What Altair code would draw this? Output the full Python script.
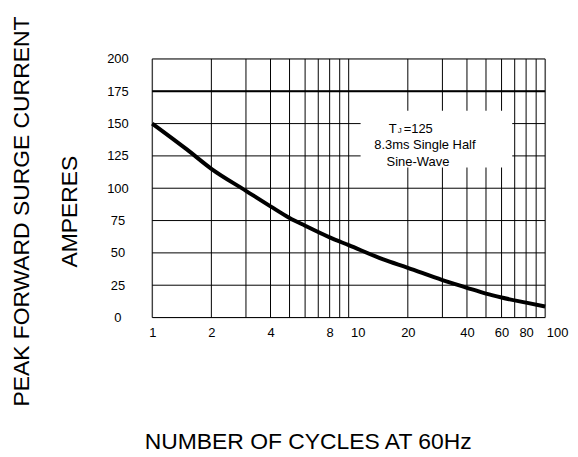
import altair as alt
import pandas as pd

# Surge curve
cycles = [1, 1.5, 2, 3, 4, 5, 6, 8, 10, 15, 20, 30, 40, 50, 60, 80, 100]
current = [150, 130, 115, 98, 86, 77, 71, 62, 56, 45, 38.5, 29, 23, 18.5, 15.5, 11.5, 8.5]

x_grid = [1, 2, 3, 4, 5, 6, 7, 8, 9, 10, 20, 30, 40, 50, 60, 70, 80, 90, 100]
x_labels = [1, 2, 4, 8, 10, 20, 40, 60, 80, 100]
y_ticks = [0, 25, 50, 75, 100, 125, 150, 175, 200]

FONT = "Liberation Sans"

df = pd.DataFrame({"cycles": cycles, "current": current})
vgrid = pd.DataFrame({"cycles": x_grid})
hgrid = pd.DataFrame({"current": y_ticks})

label_test = " || ".join(f"datum.value == {v}" for v in x_labels)

x_scale = alt.Scale(type="log", domain=[1, 100], nice=False)
y_scale = alt.Scale(domain=[0, 200], nice=False)

x_axis = alt.Axis(
    values=x_grid,
    labelExpr=f"({label_test}) ? datum.label : ''",
    grid=False, ticks=False, domain=False,
    labelFont=FONT, labelFontSize=13, labelColor="#000", labelPadding=9,
    labelFlush=False, labelOverlap=False,
    labelOffset={"condition": [
        {"test": "datum.value == 10", "value": 9},
        {"test": "datum.value == 100", "value": 12},
    ], "value": 0},
    title="NUMBER OF CYCLES AT 60Hz", titleFont=FONT, titleFontSize=23,
    titleFontWeight="normal", titleColor="#000",
    titleAlign="left", titleAnchor="start", titleX=-8, titleY=132,
    titleBaseline="alphabetic",
)
y_axis = alt.Axis(
    values=y_ticks, tickCount=9,
    grid=False, ticks=False, domain=False,
    labelFont=FONT, labelFontSize=13, labelColor="#000",
    labelAlign="center", labelPadding=35, labelOverlap=False,
    title=["PEAK FORWARD SURGE CURRENT", "AMPERES"], titleFont=FONT,
    titleFontSize=23, titleFontWeight="normal", titleColor="#000",
    titleAngle=270, titleAlign="center", titleBaseline="top",
    titleLineHeight=48, titleX=-142, titleY=153,
)

X = alt.X("cycles:Q", scale=x_scale, axis=x_axis)
Y = alt.Y("current:Q", scale=y_scale, axis=y_axis)


def xd(v):
    return alt.XDatum(v, scale=x_scale, axis=x_axis)


def yd(v):
    return alt.YDatum(v, scale=y_scale, axis=y_axis)


vlines = alt.Chart(vgrid).mark_rule(color="#000", strokeWidth=1).encode(x=X)
hlines = alt.Chart(hgrid).mark_rule(color="#000", strokeWidth=1).encode(y=Y)

box = alt.Chart().mark_rect(color="white").encode(
    x=xd(11.5), x2=alt.X2Datum(68),
    y=yd(116), y2=alt.Y2Datum(160),
)

rule175 = alt.Chart().mark_rule(color="#000", strokeWidth=2).encode(y=yd(175))

curve = alt.Chart(df).mark_line(color="#000", strokeWidth=4, interpolate="monotone").encode(
    x=X, y=Y,
)

txt_style = dict(font=FONT, fontSize=13, color="#000", align="left", baseline="alphabetic")
t1 = alt.Chart().mark_text(**txt_style).encode(x=xd(16), y=yd(143), text=alt.value("T"))
t1j = alt.Chart().mark_text(font=FONT, fontSize=8, color="#000", align="left",
                            baseline="alphabetic", dx=9).encode(
    x=xd(16), y=yd(143), text=alt.value("J"))
t1b = alt.Chart().mark_text(**txt_style, dx=15).encode(
    x=xd(16), y=yd(143), text=alt.value("=125"))
t2 = alt.Chart().mark_text(**txt_style).encode(
    x=xd(13.5), y=yd(130), text=alt.value("8.3ms Single Half"))
t3 = alt.Chart().mark_text(**txt_style).encode(
    x=xd(15.6), y=yd(117), text=alt.value("Sine-Wave"))

chart = alt.layer(vlines, hlines, box, rule175, curve, t1, t1j, t1b, t2, t3).properties(
    width=395, height=260,
    autosize=alt.AutoSizeParams(type="none"),
    padding={"left": 145, "top": 50, "right": 25, "bottom": 138},
).configure_view(stroke="#000", strokeWidth=1).configure(background="white")

chart.save("out.html", embed_options={"renderer": "svg", "actions": False})
